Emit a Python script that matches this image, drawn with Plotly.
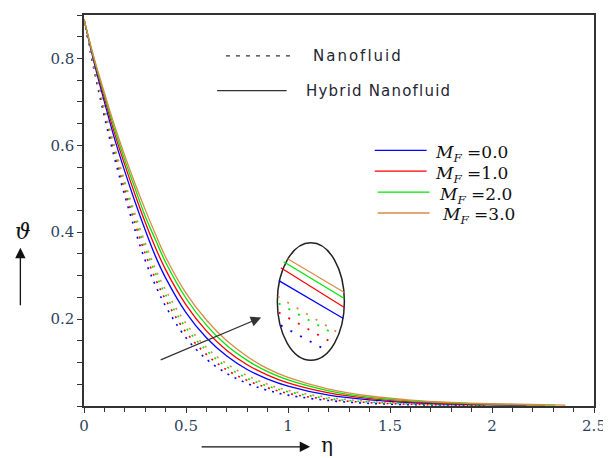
import plotly.graph_objects as go

# ---------------- data ----------------
eta = [0, 0.05, 0.1, 0.15, 0.2, 0.25, 0.3, 0.35, 0.4, 0.5, 0.6, 0.7,
       0.8, 0.9, 1.0, 1.2, 1.4, 1.6, 1.8]

# Hybrid nanofluid (solid)
eta_hnf_m0 = eta + [2.0, 2.17]
hnf_m0 = [0.89, 0.79, 0.70, 0.615, 0.54, 0.47, 0.405, 0.345, 0.295, 0.215, 0.157, 0.115,
          0.084, 0.062, 0.046, 0.025, 0.014, 0.008, 0.0045, 0.0025, 0.0018]
eta_hnf_m1 = eta + [2.0, 2.26]
hnf_m1 = [0.89, 0.795, 0.709, 0.627, 0.555, 0.487, 0.423, 0.365, 0.314, 0.233, 0.173, 0.128,
          0.095, 0.071, 0.053, 0.030, 0.017, 0.0095, 0.0056, 0.0034, 0.002]
eta_hnf_m2 = eta + [2.0, 2.31]
hnf_m2 = [0.89, 0.798, 0.716, 0.637, 0.566, 0.501, 0.437, 0.383, 0.331, 0.248, 0.186, 0.139,
          0.105, 0.079, 0.060, 0.035, 0.020, 0.012, 0.0072, 0.0043, 0.002]
eta_hnf_m3 = eta + [2.0, 2.36]
hnf_m3 = [0.89, 0.80, 0.721, 0.645, 0.576, 0.512, 0.452, 0.396, 0.343, 0.260, 0.198, 0.150,
          0.114, 0.086, 0.066, 0.039, 0.023, 0.0136, 0.0082, 0.0052, 0.0022]

# Nanofluid (dotted)
eta_nf = eta + [1.97]
nf_m0 = [0.89, 0.772, 0.666, 0.57, 0.484, 0.405, 0.335, 0.278, 0.23, 0.157, 0.108, 0.075,
         0.052, 0.036, 0.025, 0.0125, 0.006, 0.003, 0.002, 0.0015]
nf_m1 = [0.89, 0.776, 0.674, 0.581, 0.497, 0.42, 0.351, 0.293, 0.245, 0.17, 0.119, 0.083,
         0.059, 0.042, 0.029, 0.015, 0.0078, 0.004, 0.0022, 0.0016]
nf_m2 = [0.89, 0.78, 0.681, 0.59, 0.509, 0.432, 0.364, 0.306, 0.256, 0.18, 0.128, 0.09,
         0.064, 0.046, 0.033, 0.017, 0.0092, 0.0049, 0.0025, 0.0018]
nf_m3 = [0.89, 0.782, 0.686, 0.597, 0.517, 0.442, 0.375, 0.316, 0.267, 0.19, 0.135, 0.097,
         0.07, 0.05, 0.036, 0.0195, 0.0105, 0.0056, 0.003, 0.002]

mf_labels = ["0.0", "1.0", "2.0", "3.0"]
colors = ["#0000FF", "#FF0000", "#00E600", "#D98B45"]

x_tickvals = [0, 0.5, 1, 1.5, 2, 2.5]
x_ticktext = ["0", "0.5", "1", "1.5", "2", "2.5"]
y_tickvals = [0.2, 0.4, 0.6, 0.8]
y_ticktext = ["0.2", "0.4", "0.6", "0.8"]

# ---------------- figure ----------------
# the page body has an 8px default margin; size the figure so that it fits the window
OFF = 8
W, H = 611 - OFF, 458 - OFF
ML, MR, MT, MB = 84 - OFF, 6, 13 - OFF, 52
PW, PH = W - ML - MR, H - MT - MB


def px(x):  # page pixel -> paper
    return (x - OFF - ML) / PW


def py(y):  # page pixel -> paper
    return (OFF + MT + PH - y) / PH


fig = go.Figure()

nf_sets = [nf_m0, nf_m1, nf_m2, nf_m3]
hnf_sets = [(eta_hnf_m0, hnf_m0), (eta_hnf_m1, hnf_m1), (eta_hnf_m2, hnf_m2), (eta_hnf_m3, hnf_m3)]

for ys, c in zip(nf_sets, colors):
    fig.add_trace(go.Scatter(x=eta_nf, y=ys, mode="lines",
                             line=dict(color=c, width=1.6, dash="2px,6px", shape="spline"),
                             showlegend=False, hoverinfo="skip"))
for (xs, ys), c in zip(hnf_sets, colors):
    fig.add_trace(go.Scatter(x=xs, y=ys, mode="lines",
                             line=dict(color=c, width=1.3, shape="spline"),
                             showlegend=False, hoverinfo="skip"))

tick_font = dict(family="DejaVu Serif", size=15, color="#2e3f5c")
axis_common = dict(showline=True, linecolor="#333333", linewidth=1.5, mirror=True,
                   ticks="outside", ticklen=5, tickwidth=1.2, tickcolor="#333333",
                   showgrid=False, zeroline=False, tickfont=tick_font,
                   ticklabeloverflow="allow")

fig.update_xaxes(range=[0, 2.5], tickvals=x_tickvals, ticktext=x_ticktext,
                 minor=dict(dtick=0.1, ticks="outside", ticklen=4, tickcolor="#333333"),
                 **axis_common)
fig.update_yaxes(range=[0, 0.9], tickvals=y_tickvals, ticktext=y_ticktext,
                 minor=dict(dtick=0.05, ticks="outside", ticklen=5, tickcolor="#333333"),
                 **axis_common)

shapes = []
annots = []

# legend 1: Nanofluid / Hybrid Nanofluid
shapes.append(dict(type="line", xref="paper", yref="paper", x0=px(229), x1=px(298),
                   y0=py(54), y1=py(54), line=dict(color="#333333", width=1.2, dash="4px,6px")))
shapes.append(dict(type="line", xref="paper", yref="paper", x0=px(220), x1=px(291),
                   y0=py(89), y1=py(89), line=dict(color="#333333", width=1.3)))
leg_font = dict(family="DejaVu Sans", size=15, color="#1f2633")
annots.append(dict(xref="paper", yref="paper", x=px(316), y=py(54), xanchor="left", yanchor="middle",
                   text='<span style="letter-spacing:2px">Nanofluid</span>', showarrow=False, font=leg_font))
annots.append(dict(xref="paper", yref="paper", x=px(309), y=py(89), xanchor="left", yanchor="middle",
                   text='<span style="letter-spacing:1.2px">Hybrid Nanofluid</span>', showarrow=False, font=leg_font))

# legend 2: M_F values
leg2_lines = [(381, 434, 149), (381, 434, 170), (384, 437, 191), (384, 437, 212)]
leg2_textx = [441, 441, 445, 448]
for (x0, x1, yy), tx, c, lab in zip(leg2_lines, leg2_textx, colors, mf_labels):
    shapes.append(dict(type="line", xref="paper", yref="paper", x0=px(x0), x1=px(x1),
                       y0=py(yy), y1=py(yy), line=dict(color=c, width=1.3)))
    annots.append(dict(xref="paper", yref="paper", x=px(tx), y=py(yy + 3), xanchor="left",
                       yanchor="middle", showarrow=False,
                       text=f"<i>M</i><sub><i>F</i></sub> =" + lab,
                       font=dict(family="DejaVu Serif", size=17, color="#111111")))

# zoom inset (ellipse)
shapes.append(dict(type="circle", xref="paper", yref="paper", x0=px(281.5), x1=px(350),
                   y0=py(360), y1=py(242), line=dict(color="#222222", width=1.5)))
inset_solid = [((283, 280), (349, 318)), ((285, 267), (350, 307)),
               ((288, 261), (350, 298)), ((292, 258), (350, 292))]
inset_dot = [((285, 325), (328, 348)), ((283, 312), (335, 341)),
             ((283, 303), (342, 335)), ((282, 296), (343, 332))]
for ((a, b), (c2, d)), c in zip(inset_solid, colors):
    shapes.append(dict(type="line", xref="paper", yref="paper", x0=px(a), y0=py(b),
                       x1=px(c2), y1=py(d), line=dict(color=c, width=1.2)))
for ((a, b), (c2, d)), c in zip(inset_dot, colors):
    shapes.append(dict(type="line", xref="paper", yref="paper", x0=px(a), y0=py(b),
                       x1=px(c2), y1=py(d), line=dict(color=c, width=1.8, dash="2px,9px")))

# arrow pointing to inset
annots.append(dict(xref="paper", yref="paper", x=px(265), y=py(317), ax=163 - 265, ay=360 - 317,
                   axref="pixel", ayref="pixel", text="", showarrow=True, arrowhead=2,
                   arrowsize=1.6, arrowwidth=1.3, arrowcolor="#333333"))

# axis titles with arrows
annots.append(dict(xref="paper", yref="paper", x=px(315), y=py(447), ax=205 - 315, ay=0,
                   text="", showarrow=True, arrowhead=2, arrowsize=1.6, arrowwidth=1.3,
                   arrowcolor="#111111"))
annots.append(dict(xref="paper", yref="paper", x=px(324), y=py(445), xanchor="left", yanchor="middle",
                   text="η", showarrow=False,
                   font=dict(family="DejaVu Serif", size=20, color="#111111")))
annots.append(dict(xref="paper", yref="paper", x=px(19), y=py(247), ax=0, ay=306 - 247,
                   text="", showarrow=True, arrowhead=2, arrowsize=1.6, arrowwidth=1.3,
                   arrowcolor="#111111"))
annots.append(dict(xref="paper", yref="paper", x=px(22), y=py(231), xanchor="center", yanchor="middle",
                   text="<i>ϑ</i>", showarrow=False,
                   font=dict(family="DejaVu Serif", size=22, color="#111111")))

fig.update_layout(width=W, height=H, margin=dict(l=ML, r=MR, t=MT, b=MB),
                  paper_bgcolor="white", plot_bgcolor="white",
                  shapes=shapes, annotations=annots, showlegend=False)

fig.write_html("out.html")
